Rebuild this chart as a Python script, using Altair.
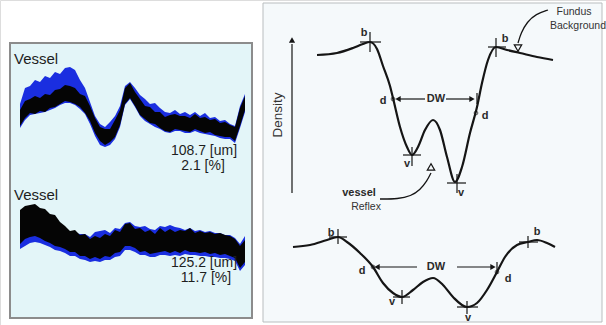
import altair as alt
import pandas as pd

W, H = 606, 325

# ---------------- left panel: vessel profiles (pixel-space readings) -------------
px = [20, 25, 30, 35, 40, 45, 50, 55, 60, 65, 70, 75, 80, 85, 90, 95, 100, 105, 110, 115,
      120, 125, 130, 135, 140, 145, 150, 155, 160, 165, 170, 175, 180, 185, 190, 195, 200,
      205, 210, 215, 220, 225, 230, 235, 240, 245]

# upper profile
blk1_top = [110, 101, 99, 96, 98, 94, 95, 90, 89, 85, 86, 88, 94, 96, 106, 118, 127, 129, 129, 120,
            110, 88, 83, 92, 99, 106, 107, 112, 112, 117, 115, 114, 116, 116, 118, 114, 118,
            117, 120, 119, 123, 122, 125, 127, 108, 96]
blk1_bot = [126, 118, 113, 114, 111, 112, 108, 107, 104, 101, 102, 104, 107, 113, 121, 133, 141, 145, 142, 137,
            125, 104, 98, 106, 115, 119, 123, 124, 128, 131, 132, 129, 130, 131, 132, 129, 131,
            133, 132, 135, 136, 137, 137, 141, 126, 110]
blu1_top = [104, 88, 86, 80, 82, 76, 78, 72, 74, 68, 67, 70, 80, 88, 102, 116, 124, 127, 122, 116,
            106, 86, 82, 88, 95, 99, 104, 103, 108, 112, 113, 110, 114, 112, 115, 112, 116,
            113, 118, 117, 121, 120, 124, 126, 106, 94]
blu1_bot = [128, 120, 115, 114, 113, 112, 110, 108, 105, 103, 103, 105, 109, 114, 124, 136, 145, 147, 145, 139,
            127, 105, 99, 107, 116, 121, 124, 127, 129, 132, 133, 131, 131, 133, 133, 131, 133,
            134, 135, 136, 138, 139, 139, 143, 128, 112]

# lower profile
blk2_top = [210, 206, 205, 204, 208, 209, 214, 215, 222, 226, 231, 230, 235, 234, 239, 236, 238, 234, 236, 230,
            232, 224, 223, 229, 228, 232, 230, 234, 228, 232, 229, 232, 230, 231, 228, 233, 231,
            233, 232, 234, 233, 235, 236, 239, 246, 240]
blk2_bot = [244, 239, 237, 236, 238, 241, 243, 246, 247, 249, 252, 252, 256, 256, 259, 257, 259, 256, 257, 253,
            252, 246, 246, 248, 252, 251, 254, 253, 252, 251, 253, 251, 253, 250, 252, 252, 253,
            252, 254, 253, 255, 254, 256, 258, 268, 262]
blu2_top = [220, 216, 214, 213, 216, 218, 222, 223, 227, 229, 232, 233, 234, 234, 237, 232, 231, 230, 233, 228,
            229, 223, 222, 226, 227, 226, 229, 230, 226, 227, 225, 227, 228, 230, 228, 231, 230,
            232, 231, 233, 233, 235, 235, 238, 244, 236]
blu2_bot = [249, 246, 243, 242, 243, 245, 247, 250, 251, 253, 256, 256, 259, 260, 262, 261, 262, 260, 260, 257,
            256, 250, 250, 252, 255, 255, 257, 257, 255, 255, 256, 255, 256, 254, 255, 255, 256,
            256, 257, 257, 258, 258, 259, 261, 271, 265]

left_texts = ["Vessel", "108.7 [um]", "2.1 [%]", "Vessel", "125.2 [um]", "11.7 [%]"]
left_tx = [14, 204, 203, 14, 204, 206]
left_ty = [59, 151, 166, 195, 263, 278]
left_al = ["left", "center", "center", "left", "center", "center"]

# ---------------- right panel: density diagram -------------
up_x = [317, 337, 353, 363, 370, 377, 383, 390, 393, 400, 407, 412, 418, 425, 433, 440, 447, 455,
        462, 470, 477, 482, 488, 496, 507, 520, 537, 553]
up_y = [55, 53, 48, 44, 42, 49, 66, 86, 98, 127, 147, 155, 147, 130, 120, 130, 157, 182,
        167, 133, 107, 83, 60, 47, 50, 53, 57, 60]

lo_x = [293, 310, 327, 338, 347, 360, 373, 383, 393, 402, 413, 423, 433, 443, 453, 467, 477,
        487, 497, 505, 517, 528, 537, 547, 555]
lo_y = [247, 245, 240, 237, 242, 253, 267, 283, 293, 297, 290, 282, 278, 285, 297, 307, 303,
        290, 272, 257, 245, 242, 240, 243, 247]

seg_x1 = [360, 370, 488, 496, 403, 412, 447, 457, 477,
          329, 338, 519, 528, 393, 402, 457, 467, 497,
          397, 446, 376, 457, 292]
seg_y1 = [42, 32, 47, 38, 155, 147, 183, 174, 93,
          237, 229, 242, 236, 297, 290, 307, 301, 262,
          99, 99, 267, 267, 193]
seg_x2 = [381, 370, 506, 496, 421, 412, 466, 457, 477,
          347, 338, 538, 528, 410, 402, 478, 467, 497,
          425, 472, 417, 493, 292]
seg_y2 = [42, 52, 47, 57, 155, 166, 183, 193, 104,
          237, 244, 242, 248, 297, 304, 307, 314, 274,
          99, 99, 267, 267, 44]

head_x = [398, 472, 377, 493, 292]
head_y = [99, 99, 267, 267, 40]
head_shape = ["triangle-left", "triangle-right", "triangle-left", "triangle-right", "triangle-up"]

dot_x = [393, 476, 373, 497]
dot_y = [99, 113, 267, 272]

fund_x = [548, 536, 527, 521, 518]
fund_y = [10, 14, 22, 33, 43]
refl_x = [380, 398, 411, 420, 427, 431]
refl_y = [199, 199, 196, 190, 181, 173]
hollow_x = [518, 431]
hollow_y = [48, 167]
hollow_shape = ["triangle-down", "triangle-up"]

lab_text = ["b", "b", "d", "d", "DW", "v", "v", "b", "b", "d", "d", "DW", "v", "v", "vessel"]
lab_x = [364, 505, 383, 485, 436, 407, 461, 331, 537, 362, 508, 436, 392, 468, 359]
lab_y = [33, 39, 101, 116, 99, 164, 193, 233, 232, 271, 279, 267, 302, 318, 193]

plain_text = ["Fundus", "Background", "Reflex"]
plain_tx = [574, 578, 366]
plain_ty = [12, 26, 207]

panel_x1 = [10, 263]
panel_x2 = [252, 602]
panel_y1 = [43, 3]
panel_y2 = [318, 322]
panel_fill = ["#e3f5f8", "#f5f9fb"]
panel_stroke = ["#8c8c8c", "#b9bdbf"]
panel_sw = [2, 1]

# ---------------- build -------------
XS = alt.Scale(domain=[0, W], nice=False, zero=False)
YS = alt.Scale(domain=[0, H], nice=False, zero=False, reverse=True)


def xe(f):
    return alt.X(f, type="quantitative", scale=XS, axis=None)


def ye(f):
    return alt.Y(f, type="quantitative", scale=YS, axis=None)


panels = alt.Chart(pd.DataFrame({"x1": panel_x1, "x2": panel_x2, "y1": panel_y1, "y2": panel_y2,
                                 "f": panel_fill, "s": panel_stroke, "w": panel_sw})).mark_rect().encode(
    x=xe("x1"), x2="x2", y=ye("y1"), y2="y2",
    fill=alt.Fill("f:N", scale=None), stroke=alt.Stroke("s:N", scale=None),
    strokeWidth=alt.StrokeWidth("w:Q", scale=None))


def band(top, bot, color):
    df = pd.DataFrame({"x": px, "t": top, "b": bot})
    return alt.Chart(df).mark_area(color=color, opacity=1, interpolate="linear").encode(
        x=xe("x"), y=ye("t"), y2="b")


bands = [band(blu1_top, blu1_bot, "#1a2ee0"), band(blk1_top, blk1_bot, "#050505"),
         band(blu2_top, blu2_bot, "#1a2ee0"), band(blk2_top, blk2_bot, "#050505")]

ltdf = pd.DataFrame({"x": left_tx, "y": left_ty, "t": left_texts, "a": left_al})
left_txt_l = alt.Chart(ltdf).mark_text(
    font="Liberation Sans", fontSize=15, color="#1e1e1e", baseline="middle", align="left").encode(
    x=xe("x"), y=ye("y"), text="t:N").transform_filter(alt.datum.a == "left")
left_txt_c = alt.Chart(ltdf).mark_text(
    font="Liberation Sans", fontSize=14, color="#1e1e1e", baseline="middle", align="center").encode(
    x=xe("x"), y=ye("y"), text="t:N").transform_filter(alt.datum.a == "center")


def curve(xs, ys, interp="monotone", sw=2.2):
    df = pd.DataFrame({"x": xs, "y": ys, "o": list(range(len(xs)))})
    return alt.Chart(df).mark_line(color="#151515", strokeWidth=sw, interpolate=interp).encode(
        x=xe("x"), y=ye("y"), order="o:Q")


upper = curve(up_x, up_y)
lower = curve(lo_x, lo_y)
fund_arrow = curve(fund_x, fund_y, "basis", 1.3)
refl_arrow = curve(refl_x, refl_y, "basis", 1.3)

segs = alt.Chart(pd.DataFrame({"x1": seg_x1, "y1": seg_y1, "x2": seg_x2, "y2": seg_y2})).mark_rule(
    color="#151515", strokeWidth=1.2).encode(x=xe("x1"), y=ye("y1"), x2="x2", y2="y2")

heads = alt.Chart(pd.DataFrame({"x": head_x, "y": head_y, "s": head_shape})).mark_point(
    filled=True, color="#151515", size=38, opacity=1).encode(
    x=xe("x"), y=ye("y"), shape=alt.Shape("s:N", scale=None))

dots = alt.Chart(pd.DataFrame({"x": dot_x, "y": dot_y})).mark_point(
    filled=False, color="#151515", size=14, strokeWidth=1).encode(x=xe("x"), y=ye("y"))

hollow = alt.Chart(pd.DataFrame({"x": hollow_x, "y": hollow_y, "s": hollow_shape})).mark_point(
    filled=False, color="#151515", size=55, strokeWidth=1.2, opacity=1).encode(
    x=xe("x"), y=ye("y"), shape=alt.Shape("s:N", scale=None))

labels = alt.Chart(pd.DataFrame({"x": lab_x, "y": lab_y, "t": lab_text})).mark_text(
    font="Liberation Sans", fontSize=11, fontWeight="bold", color="#2a2a2a", baseline="middle").encode(
    x=xe("x"), y=ye("y"), text="t:N")

plain_lbl = alt.Chart(pd.DataFrame({"x": plain_tx, "y": plain_ty, "t": plain_text})).mark_text(
    font="Liberation Sans", fontSize=10.5, color="#333333", baseline="middle").encode(
    x=xe("x"), y=ye("y"), text="t:N")

density = alt.Chart(pd.DataFrame({"x": [278], "y": [115], "t": ["Density"]})).mark_text(
    font="Liberation Sans", fontSize=13.5, color="#333333", angle=270, baseline="middle").encode(
    x=xe("x"), y=ye("y"), text="t:N")

chart = alt.layer(
    panels, *bands, left_txt_l, left_txt_c,
    upper, lower, fund_arrow, refl_arrow, segs, heads, dots, hollow, labels, plain_lbl, density
).properties(width=W, height=H, padding=0, autosize=alt.AutoSizeParams(type="none")
).configure_view(stroke=None).configure(background="white")

chart.save("out.html", embed_options={"renderer": "svg", "actions": False})
